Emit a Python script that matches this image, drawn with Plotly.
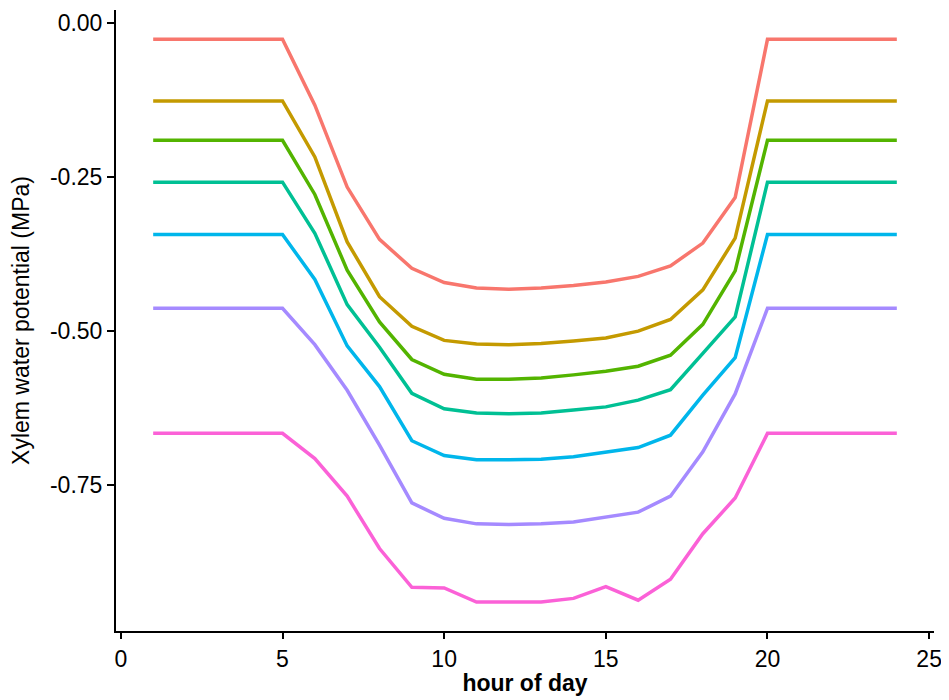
import plotly.graph_objects as go

hours = list(range(1, 25))

series_names = ["s1", "s2", "s3", "s4", "s5", "s6", "s7"]
colors = ["#F8766D", "#C49A00", "#53B400", "#00C094", "#00B6EB", "#A58AFF", "#FB61D7"]

s1 = [-0.026]*5 + [-0.133, -0.266, -0.351, -0.398, -0.421, -0.430, -0.432, -0.430, -0.426, -0.420, -0.411, -0.394, -0.357, -0.283] + [-0.026]*5
s2 = [-0.126]*5 + [-0.217, -0.355, -0.444, -0.492, -0.515, -0.521, -0.522, -0.520, -0.516, -0.511, -0.500, -0.481, -0.433, -0.349] + [-0.126]*5
s3 = [-0.190]*5 + [-0.278, -0.401, -0.485, -0.546, -0.570, -0.578, -0.578, -0.576, -0.571, -0.565, -0.557, -0.539, -0.489, -0.402] + [-0.190]*5
s4 = [-0.258]*5 + [-0.341, -0.457, -0.526, -0.601, -0.626, -0.633, -0.634, -0.633, -0.628, -0.623, -0.612, -0.595, -0.536, -0.477] + [-0.258]*5
s5 = [-0.343]*5 + [-0.416, -0.524, -0.590, -0.678, -0.702, -0.709, -0.709, -0.708, -0.704, -0.697, -0.689, -0.669, -0.604, -0.543] + [-0.343]*5
s6 = [-0.463]*5 + [-0.522, -0.596, -0.685, -0.779, -0.804, -0.813, -0.814, -0.813, -0.810, -0.802, -0.794, -0.768, -0.696, -0.602] + [-0.463]*5
s7 = [-0.666]*5 + [-0.707, -0.768, -0.853, -0.916, -0.917, -0.940, -0.940, -0.940, -0.934, -0.915, -0.937, -0.903, -0.829, -0.771] + [-0.666]*5
series = [s1, s2, s3, s4, s5, s6, s7]

x_ticks = [0, 5, 10, 15, 20, 25]
x_ticklabels = ["0", "5", "10", "15", "20", "25"]
y_ticks = [0.0, -0.25, -0.5, -0.75]
y_ticklabels = ["0.00", "-0.25", "-0.50", "-0.75"]

fig = go.Figure()
for name, vals, col in zip(series_names, series, colors):
    fig.add_trace(go.Scatter(x=hours, y=vals, mode="lines", name=name,
                             line=dict(color=col, width=3.5), showlegend=False))

font_family = "Liberation Sans, Arial, sans-serif"
fig.update_layout(
    width=941, height=692,
    margin=dict(l=108, r=15, t=2, b=69),
    paper_bgcolor="white", plot_bgcolor="white",
    font=dict(family=font_family, color="black", size=23),
)
fig.update_xaxes(
    range=[-0.15, 25.15], tickvals=x_ticks, ticktext=x_ticklabels,
    showgrid=False, zeroline=False, showline=True, linecolor="black", linewidth=2,
    ticks="outside", ticklen=6, tickwidth=1.5, tickcolor="black",
    tickfont=dict(size=23, color="black"), automargin=False,
    title=dict(text="<b>hour of day</b>", font=dict(size=23, color="black"), standoff=4),
)
fig.update_yaxes(
    range=[-0.987, 0.0216], tickvals=y_ticks, ticktext=y_ticklabels,
    showgrid=False, zeroline=False, showline=True, linecolor="black", linewidth=2,
    ticks="outside", ticklen=7, tickwidth=1.5, tickcolor="black",
    tickfont=dict(size=23, color="black"), automargin=False,
    title=dict(text="Xylem water potential (MPa)", font=dict(size=23, color="black"), standoff=24),
)

fig.write_html("out.html")
